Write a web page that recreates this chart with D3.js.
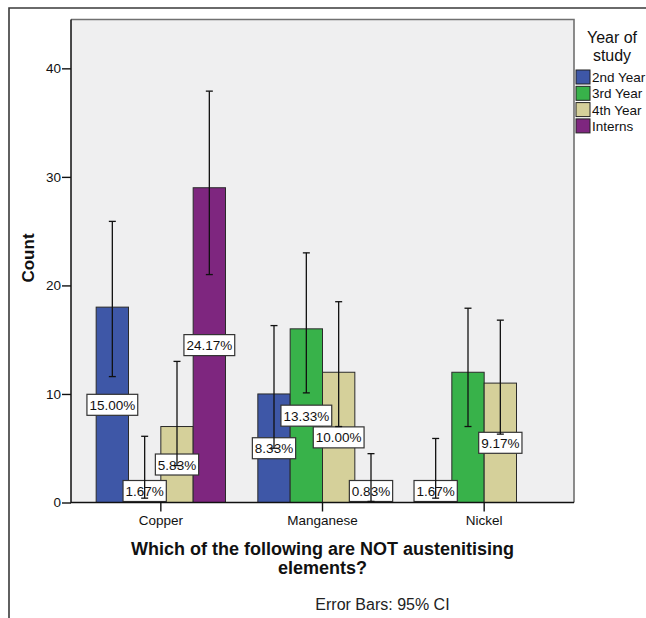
<!DOCTYPE html>
<html>
<head>
<meta charset="utf-8">
<script src="https://cdn.jsdelivr.net/npm/d3@7"></script>
<style>
  html, body { margin: 0; padding: 0; background: #ffffff; }
  svg { display: block; font-family: "Liberation Sans", Arial, sans-serif; }
</style>
</head>
<body>
<svg id="chart" width="646" height="618"></svg>
<script>
// Answers per element, split by year of study (counts out of all respondents)
const categories = ["Copper", "Manganese", "Nickel"];
const series = ["2nd Year", "3rd Year", "4th Year", "Interns"];
const totalRespondents = 120;

const count2nd = [18, 10, 2];
const count3rd = [2, 16, 12];
const count4th = [7, 12, 11];
const countInterns = [29, 1, 0];

// 95% confidence interval of each count
const ciLower2nd = [11.6, 5.0, 0.4];
const ciUpper2nd = [25.9, 16.3, 5.9];
const ciLower3rd = [0.4, 10.1, 7.0];
const ciUpper3rd = [6.1, 23.0, 17.9];
const ciLower4th = [3.4, 7.0, 6.3];
const ciUpper4th = [13.0, 18.5, 16.8];
const ciLowerInterns = [21.0, 0.1, null];
const ciUpperInterns = [37.9, 4.5, null];

// which bars carry a percentage label
const labelled2nd = [true, true, true];
const labelled3rd = [true, true, false];
const labelled4th = [true, true, true];
const labelledInterns = [true, true, false];

const yTicks = [0, 10, 20, 30, 40];
const seriesColors = ["#3e57a7", "#38b24a", "#d5d09a", "#7e267f"];

const counts = [count2nd, count3rd, count4th, countInterns];
const lowers = [ciLower2nd, ciLower3rd, ciLower4th, ciLowerInterns];
const uppers = [ciUpper2nd, ciUpper3rd, ciUpper4th, ciUpperInterns];
const labelled = [labelled2nd, labelled3rd, labelled4th, labelledInterns];

const rows = [];
categories.forEach((cat, ci) => {
  series.forEach((s, si) => {
    rows.push({
      cat, s, si,
      value: counts[si][ci],
      lo: lowers[si][ci],
      hi: uppers[si][ci],
      label: labelled[si][ci]
    });
  });
});

const svg = d3.select("#chart");
const plot = { left: 71, right: 574, top: 19.5, bottom: 502.5 };

// outer frame (top and left edges)
svg.append("path")
  .attr("d", "M9,618 L9,8 L646,8")
  .attr("fill", "none").attr("stroke", "#3a3a3a").attr("stroke-width", 1.6);

// plot background
svg.append("rect")
  .attr("x", plot.left).attr("y", plot.top)
  .attr("width", plot.right - plot.left).attr("height", plot.bottom - plot.top)
  .attr("fill", "#efeff0");

const x0 = d3.scaleBand().domain(categories).range([80, 565]).paddingInner(0).paddingOuter(0);
const x1 = d3.scaleBand().domain(series).range([0, x0.bandwidth()]).paddingInner(0).paddingOuter(0.5);
const y = d3.scaleLinear().domain([0, 44.5]).range([plot.bottom, plot.top]);
const color = d3.scaleOrdinal().domain(series).range(seriesColors);

// bars
svg.append("g").selectAll("rect")
  .data(rows.filter(d => d.value > 0))
  .join("rect")
  .attr("x", d => x0(d.cat) + x1(d.s))
  .attr("y", d => y(d.value))
  .attr("width", x1.bandwidth())
  .attr("height", d => y(0) - y(d.value))
  .attr("fill", d => color(d.s))
  .attr("stroke", "#2a2a2a").attr("stroke-width", 1);

// percentage labels, centred on each bar and kept above the baseline
const fmt = d3.format(".2f");
const labelG = svg.append("g");
rows.filter(d => d.label && d.value > 0).forEach(d => {
  const cx = x0(d.cat) + x1(d.s) + x1.bandwidth() / 2;
  let cy = (y(d.value) + y(0)) / 2;
  const h = 21;
  if (cy + h / 2 > plot.bottom - 1) cy = plot.bottom - 1 - h / 2;
  const g = labelG.append("g");
  const t = g.append("text")
    .attr("x", cx).attr("y", cy + 5)
    .attr("text-anchor", "middle")
    .attr("font-size", 13.5).attr("fill", "#111")
    .text(fmt(d.value / totalRespondents * 100) + "%");
  const w = t.node().getComputedTextLength() + 5;
  g.insert("rect", "text")
    .attr("x", cx - w / 2).attr("y", cy - h / 2)
    .attr("width", w).attr("height", h)
    .attr("fill", "#ffffff").attr("stroke", "#333").attr("stroke-width", 1.2);
});

// 95% CI error bars
const errG = svg.append("g").attr("stroke", "#111").attr("stroke-width", 1.3);
rows.filter(d => d.hi != null).forEach(d => {
  const cx = x0(d.cat) + x1(d.s) + x1.bandwidth() / 2;
  errG.append("line").attr("x1", cx).attr("x2", cx).attr("y1", y(d.lo)).attr("y2", y(d.hi));
  [d.lo, d.hi].forEach(v => {
    errG.append("line").attr("x1", cx - 3.5).attr("x2", cx + 3.5).attr("y1", y(v)).attr("y2", y(v));
  });
});

// plot frame: grey top and right, black axes left and bottom
svg.append("path")
  .attr("d", `M${plot.left},${plot.top} L${plot.right},${plot.top} L${plot.right},${plot.bottom}`)
  .attr("fill", "none").attr("stroke", "#707070").attr("stroke-width", 1.6);
svg.append("path")
  .attr("d", `M${plot.left},${plot.top} L${plot.left},${plot.bottom} L${plot.right},${plot.bottom}`)
  .attr("fill", "none").attr("stroke", "#111").attr("stroke-width", 1.5);

// axes
const yAxis = svg.append("g").attr("transform", `translate(${plot.left},0)`)
  .call(d3.axisLeft(y).tickValues(yTicks).tickSize(9).tickPadding(1).tickSizeOuter(0));
yAxis.select(".domain").remove();
yAxis.selectAll("line").attr("stroke", "#111").attr("stroke-width", 1.4);
yAxis.selectAll("text").attr("font-size", 13.5).attr("fill", "#111")
  .attr("font-family", "'Liberation Sans', Arial, sans-serif");

const xAxis = svg.append("g").attr("transform", `translate(0,${plot.bottom})`)
  .call(d3.axisBottom(x0).tickSize(9).tickPadding(4).tickSizeOuter(0));
xAxis.select(".domain").remove();
xAxis.selectAll("line").attr("stroke", "#111").attr("stroke-width", 1.4);
xAxis.selectAll("text").attr("font-size", 13.5).attr("fill", "#111")
  .attr("font-family", "'Liberation Sans', Arial, sans-serif");

// axis titles
svg.append("text")
  .attr("transform", "translate(34,258) rotate(-90)")
  .attr("text-anchor", "middle")
  .attr("font-size", 17).attr("font-weight", "bold").attr("fill", "#111")
  .text("Count");

svg.append("text")
  .attr("x", 322.5).attr("y", 555)
  .attr("text-anchor", "middle")
  .attr("font-size", 18).attr("font-weight", "bold").attr("fill", "#111")
  .text("Which of the following are NOT austenitising");
svg.append("text")
  .attr("x", 322.5).attr("y", 573.5)
  .attr("text-anchor", "middle")
  .attr("font-size", 18).attr("font-weight", "bold").attr("fill", "#111")
  .text("elements?");

svg.append("text")
  .attr("x", 382.5).attr("y", 610)
  .attr("text-anchor", "middle")
  .attr("font-size", 16).attr("fill", "#222")
  .text("Error Bars: 95% CI");

// legend
const legend = svg.append("g");
legend.append("text").attr("x", 612).attr("y", 43).attr("text-anchor", "middle")
  .attr("font-size", 16).attr("fill", "#111").text("Year of");
legend.append("text").attr("x", 612).attr("y", 61).attr("text-anchor", "middle")
  .attr("font-size", 16).attr("fill", "#111").text("study");
series.forEach((s, i) => {
  const cy = 77 + i * 16.3;
  legend.append("rect")
    .attr("x", 576).attr("y", cy - 7).attr("width", 14).attr("height", 14)
    .attr("fill", color(s)).attr("stroke", "#222").attr("stroke-width", 1);
  legend.append("text")
    .attr("x", 592).attr("y", cy + 5)
    .attr("font-size", 13.5).attr("fill", "#111").text(s);
});
</script>
</body>
</html>
